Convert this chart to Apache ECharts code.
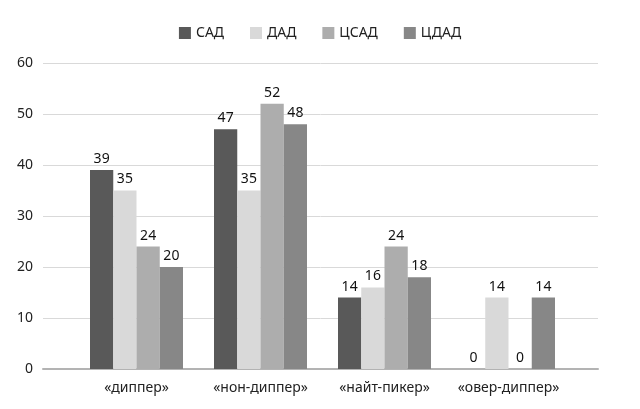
<!DOCTYPE html>
<html>
<head>
<meta charset="utf-8">
<script src="https://cdn.jsdelivr.net/npm/echarts@6/dist/echarts.min.js"></script>
<style>html,body{margin:0;padding:0;background:#fff}#c{width:640px;height:409px}</style>
</head>
<body>
<div id="c"></div>
<script>
const categories = ['«диппер»', '«нон-диппер»', '«найт-пикер»', '«овер-диппер»'];
const seriesNames = ['САД', 'ДАД', 'ЦСАД', 'ЦДАД'];
const sad = [39, 47, 14, 0];
const dad = [35, 35, 16, 14];
const csad = [24, 52, 24, 0];
const cdad = [20, 48, 18, 14];
const yTicks = [0, 10, 20, 30, 40, 50, 60];

const colors = ['#595959', '#d9d9d9', '#adadad', '#878787'];
const values = [sad, dad, csad, cdad];
const FONT = 'Noto Sans';

const chart = echarts.init(document.getElementById('c'));
chart.setOption({
  animation: false,
  textStyle: { fontFamily: FONT },
  legend: {
    top: 21, left: 'center', itemWidth: 12, itemHeight: 12, itemGap: 26,
    icon: 'rect',
    textStyle: { fontFamily: FONT, fontSize: 14, color: '#222' },
    data: seriesNames
  },
  grid: [
    { left: 43, right: 42, top: 63, bottom: 40 },
    { left: 74.5, right: 69.5, top: 63, bottom: 40 }
  ],
  xAxis: [
    { type: 'category', gridIndex: 0, data: [''], axisLine: { show: true, lineStyle: { color: '#b3b3b3', width: 2 } },
      axisTick: { show: false }, axisLabel: { show: false } },
    { type: 'category', gridIndex: 1, data: categories, axisLine: { show: false }, axisTick: { show: false },
      axisLabel: { interval: 0, fontFamily: FONT, fontSize: 14, color: '#222', margin: 12 } }
  ],
  yAxis: [
    { type: 'value', gridIndex: 0, min: yTicks[0], max: yTicks[yTicks.length - 1], interval: 10,
      axisLine: { show: false }, axisTick: { show: false },
      axisLabel: { fontFamily: FONT, fontSize: 14, color: '#222', margin: 10 },
      splitLine: { lineStyle: { color: '#d9d9d9', width: 1 } } },
    { type: 'value', gridIndex: 1, min: yTicks[0], max: yTicks[yTicks.length - 1], interval: 10,
      show: false, splitLine: { show: false } }
  ],
  series: seriesNames.map((n, i) => ({
    name: n, type: 'bar', xAxisIndex: 1, yAxisIndex: 1,
    data: values[i], barGap: '0%', barCategoryGap: '25%',
    itemStyle: { color: colors[i] },
    label: { show: true, position: 'top', distance: 4, fontFamily: FONT, fontSize: 14, color: '#111' }
  }))
});
</script>
</body>
</html>
